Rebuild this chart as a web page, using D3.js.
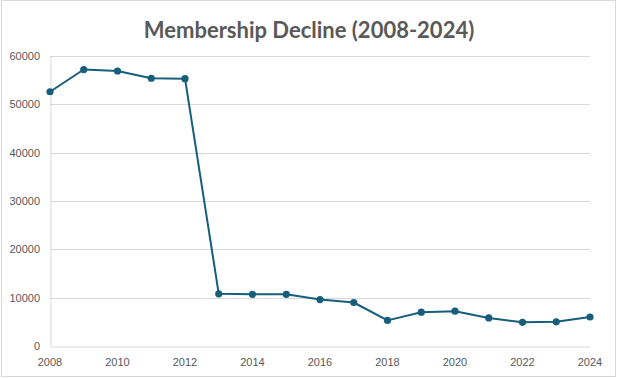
<!DOCTYPE html>
<html>
<head>
<meta charset="utf-8">
<script src="https://cdn.jsdelivr.net/npm/d3@7"></script>
<style>
  html, body { margin: 0; padding: 0; background: #fff; }
  svg { display: block; }
</style>
</head>
<body>
<svg id="chart" width="617" height="378"></svg>
<script>
const title = 'Membership Decline (2008-2024)';
const years = [2008, 2009, 2010, 2011, 2012, 2013, 2014, 2015, 2016,
               2017, 2018, 2019, 2020, 2021, 2022, 2023, 2024];
const members = [52600, 57200, 56900, 55400, 55300, 10800, 10700, 10700, 9600,
                 9000, 5300, 7000, 7200, 5800, 4900, 5000, 6000];
const yTicks = [0, 10000, 20000, 30000, 40000, 50000, 60000];
const xTicks = [2008, 2010, 2012, 2014, 2016, 2018, 2020, 2022, 2024];

const width = 617, height = 378;
const margin = { top: 56, right: 27, bottom: 32, left: 50 };
const labelFont = '"Liberation Sans", Arial, sans-serif';

const svg = d3.select('#chart');

// outer frame
svg.append('rect')
  .attr('x', 1.5).attr('y', 0.5)
  .attr('width', width - 3).attr('height', height - 2)
  .attr('fill', '#fff')
  .attr('stroke', '#d9d9d9');

svg.append('text')
  .attr('x', 309)
  .attr('y', 38)
  .attr('text-anchor', 'middle')
  .attr('font-family', 'Lato, "Open Sans", sans-serif')
  .attr('font-weight', 'bold')
  .attr('font-size', '22px')
  .attr('fill', '#595959')
  .text(title);

// scales in page coordinates
const x = d3.scaleLinear().domain([2008, 2024]).range([margin.left, width - margin.right]);
const y = d3.scaleLinear().domain([0, 60000]).range([height - margin.bottom, margin.top]);

// gridlines
svg.append('g')
  .selectAll('line')
  .data(yTicks.filter(d => d > 0))
  .join('line')
  .attr('x1', margin.left).attr('x2', width - margin.right)
  .attr('y1', d => Math.round(y(d)) + 0.5)
  .attr('y2', d => Math.round(y(d)) + 0.5)
  .attr('stroke', '#d9d9d9');

// axis lines (labels drawn separately below)
svg.append('g')
  .attr('transform', `translate(${margin.left + 0.5}, 0)`)
  .call(d3.axisLeft(y).tickValues([]).tickSize(0))
  .select('.domain').attr('stroke', '#d9d9d9');

svg.append('g')
  .attr('transform', `translate(0, ${Math.round(y(0)) + 0.5})`)
  .call(d3.axisBottom(x).tickValues([]).tickSize(0))
  .select('.domain').attr('stroke', '#d9d9d9');

// y tick labels
svg.append('g')
  .selectAll('text')
  .data(yTicks)
  .join('text')
  .attr('x', margin.left - 10)
  .attr('y', d => y(d) + 4)
  .attr('text-anchor', 'end')
  .attr('font-family', labelFont)
  .attr('font-size', '11px')
  .attr('fill', '#595959')
  .text(d => d3.format('d')(d));

// x tick labels
svg.append('g')
  .selectAll('text')
  .data(xTicks)
  .join('text')
  .attr('x', d => x(d))
  .attr('y', y(0) + 20)
  .attr('text-anchor', 'middle')
  .attr('font-family', labelFont)
  .attr('font-size', '11px')
  .attr('fill', '#595959')
  .text(d => d3.format('d')(d));

const data = years.map((yr, i) => ({ year: yr, value: members[i] }));

svg.append('path')
  .datum(data)
  .attr('fill', 'none')
  .attr('stroke', '#165e7b')
  .attr('stroke-width', 2)
  .attr('stroke-linejoin', 'round')
  .attr('d', d3.line().x(d => x(d.year)).y(d => y(d.value)));

svg.selectAll('.pt')
  .data(data)
  .join('circle')
  .attr('class', 'pt')
  .attr('cx', d => x(d.year))
  .attr('cy', d => y(d.value))
  .attr('r', 3.6)
  .attr('fill', '#165e7b');
</script>
</body>
</html>
